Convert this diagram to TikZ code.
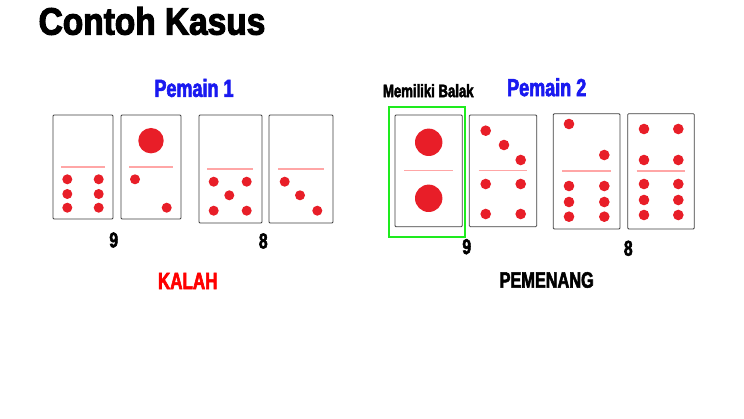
\documentclass[tikz,border=0pt]{standalone}
\usepackage{fontspec}
\newfontfamily\judulfont[FakeStretch=0.88,FakeBold=3]{Liberation Sans Bold}
\newfontfamily\impfont[FakeStretch=0.73,FakeBold=2.5]{Liberation Sans Bold}
\definecolor{pipred}{RGB}{232,30,40}
\definecolor{pemainblue}{RGB}{25,25,240}
\definecolor{balakgreen}{RGB}{30,235,30}
\tikzset{
  domino/.style={draw=black!75, line width=0.8pt, rounded corners=1pt, fill=white},
  divider/.style={draw=red!35, line width=1.2pt},
  pip/.style={fill=pipred},
  skor/.style={font=\impfont\fontsize{21.5}{22}\selectfont}
}

\begin{document}
\begin{tikzpicture}[x=1pt, y=-1pt]
  \fill[white] (0,0) rectangle (744,419);
  \useasboundingbox (0,0) rectangle (744,419);

  % タイトル
  \node[font=\judulfont\fontsize{38}{38}\selectfont] (judul) at (152,21) {Contoh Kasus};

  % 左側：Pemain 1
  \node[font=\impfont\fontsize{24.7}{25}\selectfont, text=pemainblue] (pemain1) at (194,88) {Pemain 1};

  \draw[domino] (53,115) rectangle (113,219);
  \draw[divider] (61,167) -- (105,167);
  \foreach \x in {67.3,98.7}
    \foreach \y in {179.3,194,207.7}
      \fill[pip] (\x,\y) circle (5);

  \draw[domino] (121,115) rectangle (181,219);
  \fill[pip] (151,140.7) circle (12.7);
  \draw[divider] (129,167) -- (173,167);
  \fill[pip] (135,179.3) circle (5);
  \fill[pip] (166.7,207.7) circle (5);

  \draw[domino] (199,115) rectangle (262,223);
  \draw[divider] (207,169) -- (253,169);
  \foreach \x/\y in {213.7/181.7, 246.7/181.7, 229.3/195.3, 213.7/210.7, 246.7/210.7}
    \fill[pip] (\x,\y) circle (5);

  \draw[domino] (269,115) rectangle (333,223);
  \draw[divider] (278,169) -- (324,169);
  \foreach \x/\y in {284.7/181.7, 300/195.3, 317.3/210.7}
    \fill[pip] (\x,\y) circle (5);

  \node[skor] (skor1a) at (113.7,240) {9};
  \node[skor] (skor1b) at (263.3,241) {8};
  \node[font=\impfont\fontsize{23.3}{24}\selectfont, text=red] (kalah) at (187.7,281) {KALAH};

  % 右側：Pemain 2
  \node[font=\impfont\fontsize{24.7}{25}\selectfont, text=pemainblue] (pemain2) at (546.7,87.3) {Pemain 2};
  \node[font=\impfont\fontsize{18}{18}\selectfont] (balak) at (428.3,90.7) {Memiliki Balak};

  \draw[domino] (395,115) rectangle (462.3,226.7);
  \draw[divider] (404,170.7) -- (452.7,170.7);
  \fill[pip] (428.7,142.3) circle (13.7);
  \fill[pip] (428.7,198.3) circle (13.7);
  \draw[balakgreen, line width=2pt] (389,107) rectangle (465.3,236.7);

  \draw[domino] (469.3,115) rectangle (536.7,226.7);
  \draw[divider] (478.7,170.7) -- (527.3,170.7);
  \foreach \x/\y in {485.7/130.7, 504/145, 520.7/160, 485.7/184, 520.7/184, 485.7/214, 520.7/214}
    \fill[pip] (\x,\y) circle (5.3);

  \draw[domino] (553.3,113.7) rectangle (620,229);
  \draw[divider] (562.3,171) -- (610.7,171);
  \fill[pip] (569,124) circle (5.3);
  \fill[pip] (604.3,155) circle (5.3);
  \foreach \x in {569,604.3}
    \foreach \y in {186,202,216.7}
      \fill[pip] (\x,\y) circle (5.3);

  \draw[domino] (627.7,113.7) rectangle (694.3,229);
  \draw[divider] (636.7,171) -- (685,171);
  \foreach \x in {644,678.3} {
    \foreach \y in {129,160}
      \fill[pip] (\x,\y) circle (5.3);
    \foreach \y in {184,200,215}
      \fill[pip] (\x,\y) circle (5.3);
  }

  \node[skor] (skor2a) at (466.7,246.7) {9};
  \node[skor] (skor2b) at (628.3,248.3) {8};
  \node[font=\impfont\fontsize{22.3}{23}\selectfont] (pemenang) at (546.7,280) {PEMENANG};
\end{tikzpicture}
\end{document}
